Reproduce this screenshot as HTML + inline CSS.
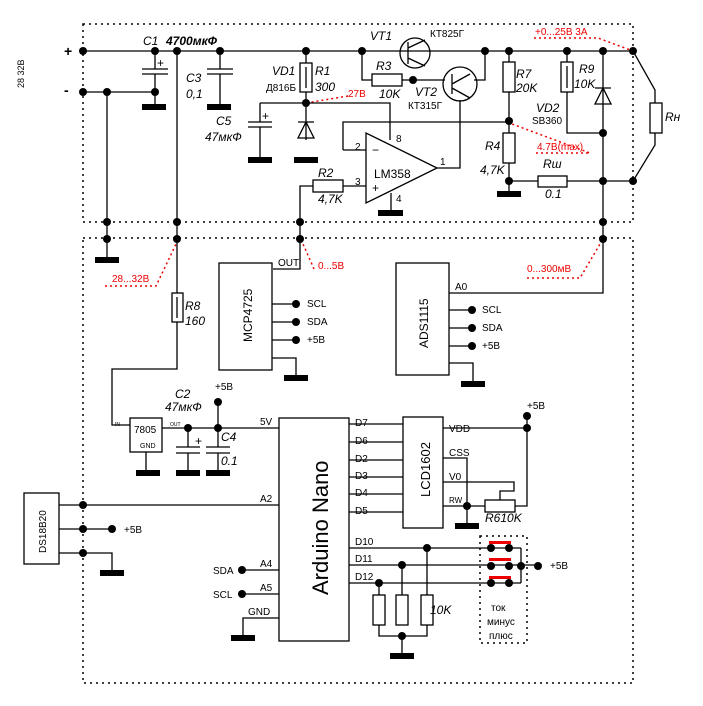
<!DOCTYPE html>
<html><head><meta charset="utf-8"><style>body{margin:0;background:#fff}svg{display:block}</style></head><body>
<svg width="703" height="706" viewBox="0 0 703 706" xmlns="http://www.w3.org/2000/svg" font-family="Liberation Sans, sans-serif">
<g fill="none" stroke="#000" stroke-width="1.5" stroke-dasharray="2,4">
<rect x="83" y="24" width="550" height="198"/>
<rect x="83" y="238" width="550" height="445"/>
<rect x="480" y="536" width="47" height="107"/>
</g>
<g fill="none" stroke="#e00" stroke-width="1.5" stroke-dasharray="2,3">
<path d="M534 38H598L633 51"/><path d="M348 96L306 103"/><path d="M536 153H590L512 124"/>
<path d="M105 286H156L177 242"/><path d="M314 269L303 244"/><path d="M527 278H580L600 244"/>
</g>
<g fill="none" stroke="#000" stroke-width="1.3">
<path d="M83 51H633M83 92H155M155 51V69M155 74V106M107 92V260M177 51V293M177 322V369H112V425H130"/>
<path d="M142 69H168M142 74H168M207 69H233M207 74H233M220 51V69M220 74V106"/>
<path d="M306 51V63M306 92V140M260 103H390V140M260 103V122M260 127V160M248 122H272M248 127H272"/>
<path d="M298 122H314M306 122L298 138H314Z"/>
<path d="M343 150H366M343 150V122H509M366 186H343M313 186H300V269H273"/>
<path d="M366 133V203L437 168Z M437 168H460V100 M391 193V212"/>
<path d="M362 51V80H372M402 80H445M485 51V80H474"/>
<path d="M509 51V62M509 92V133M509 163V191M509 181H538M567 181H633M567 51V62M567 92V133H603M603 51V293H449"/>
<path d="M595 88H611M603 88L595 104H611Z"/>
<path d="M633 51L655 90V103M655 133V145L633 181"/>
<circle cx="415" cy="53" r="15"/><circle cx="460" cy="84" r="17"/>
<path d="M408 42V64M408 48L425 40M408 58L425 66M452 74V94M452 84L470 74M452 88L470 98"/>
<path d="M272 304H296M272 322H296M272 340H296M272 358H296V378"/>
<path d="M449 310H472M449 328H472M449 346H472M449 363H473V385"/>
<path d="M162 428H279M146 452V472M188 428V447M188 453V472M218 402V447M218 453V472M176 447H200M176 453H200M206 447H230M206 453H230"/>
<path d="M279 618H243V637M349 424H403M349 442H403M349 460H403M349 477H403M349 494H403M349 512H403"/>
<path d="M443 428H527V416M443 458H467V525M443 482H514V491H500V500M443 506H485M515 506H527V428"/>
<path d="M349 548H509M349 565H509M349 583H509M521 548V583M509 548H521M509 565H538M509 583H521"/>
<path d="M379 583V595M402 565V595M427 548V595M379 625V636H427V625M402 636V655"/>
<path d="M59 505H279M59 529H112M59 553H112V572M242 570H279M242 594H279"/>
</g>
<g fill="#fff" stroke="#000" stroke-width="1.3">
<rect x="300" y="63" width="12" height="29"/><rect x="372" y="74" width="30" height="12"/><rect x="313" y="180" width="30" height="12"/>
<rect x="503" y="62" width="12" height="30"/><rect x="503" y="133" width="12" height="30"/><rect x="561" y="62" width="12" height="30"/>
<rect x="538" y="176" width="29" height="11"/><rect x="650" y="103" width="12" height="30"/><rect x="172" y="293" width="11" height="29"/>
<rect x="219" y="263" width="53" height="107"/><rect x="396" y="263" width="53" height="112"/>
<rect x="130" y="418" width="32" height="34"/><rect x="279" y="418" width="70" height="223"/><rect x="403" y="417" width="40" height="111"/>
<rect x="485" y="500" width="30" height="12"/><rect x="24" y="493" width="35" height="71"/>
<rect x="373" y="595" width="12" height="30"/><rect x="396" y="595" width="12" height="30"/><rect x="421" y="595" width="12" height="30"/>
</g>
<path d="M306 67V88M567 66V88M177 297V318" stroke="#000" stroke-width="1.3"/>
<g fill="#000">
<rect x="142" y="104" width="24" height="6"/><rect x="207" y="104" width="24" height="6"/><rect x="248" y="157" width="24" height="6"/><rect x="294" y="157" width="24" height="6"/>
<rect x="378" y="210" width="25" height="6"/><rect x="497" y="191" width="24" height="6"/><rect x="95" y="257" width="24" height="6"/>
<rect x="284" y="375" width="24" height="6"/><rect x="461" y="381" width="24" height="6"/><rect x="136" y="470" width="24" height="6"/>
<rect x="176" y="470" width="24" height="6"/><rect x="206" y="470" width="24" height="6"/><rect x="231" y="635" width="24" height="6"/>
<rect x="455" y="523" width="24" height="6"/><rect x="390" y="653" width="24" height="6"/><rect x="100" y="570" width="24" height="6"/>
<circle cx="83" cy="51" r="4"/><circle cx="83" cy="92" r="4"/><circle cx="155" cy="51" r="4"/><circle cx="155" cy="92" r="4"/><circle cx="107" cy="92" r="4"/>
<circle cx="177" cy="51" r="4"/><circle cx="220" cy="51" r="4"/><circle cx="306" cy="51" r="4"/><circle cx="306" cy="103" r="4"/><circle cx="362" cy="51" r="4"/>
<circle cx="413" cy="80" r="4"/><circle cx="485" cy="51" r="4"/><circle cx="509" cy="51" r="4"/><circle cx="509" cy="121" r="4"/><circle cx="509" cy="181" r="4"/>
<circle cx="567" cy="51" r="4"/><circle cx="603" cy="51" r="4"/><circle cx="603" cy="133" r="4"/><circle cx="603" cy="181" r="4"/><circle cx="633" cy="51" r="4"/><circle cx="633" cy="181" r="4"/>
<circle cx="107" cy="222" r="4"/><circle cx="177" cy="222" r="4"/><circle cx="300" cy="222" r="4"/><circle cx="603" cy="222" r="4"/>
<circle cx="107" cy="239" r="4"/><circle cx="177" cy="239" r="4"/><circle cx="300" cy="239" r="4"/><circle cx="603" cy="239" r="4"/>
<circle cx="296" cy="304" r="4"/><circle cx="296" cy="322" r="4"/><circle cx="296" cy="340" r="4"/><circle cx="472" cy="310" r="4"/><circle cx="472" cy="328" r="4"/><circle cx="472" cy="346" r="4"/>
<circle cx="188" cy="428" r="4"/><circle cx="218" cy="428" r="4"/><circle cx="218" cy="402" r="4"/><circle cx="527" cy="416" r="4"/><circle cx="527" cy="428" r="4"/><circle cx="467" cy="506" r="4"/>
<circle cx="427" cy="548" r="4"/><circle cx="402" cy="565" r="4"/><circle cx="379" cy="583" r="4"/><circle cx="402" cy="636" r="4"/>
<circle cx="491" cy="548" r="4"/><circle cx="509" cy="548" r="4"/><circle cx="491" cy="566" r="4"/><circle cx="509" cy="566" r="4"/><circle cx="491" cy="583" r="4"/><circle cx="509" cy="583" r="4"/>
<circle cx="521" cy="566" r="4"/><circle cx="538" cy="566" r="4"/><circle cx="83" cy="505" r="4"/><circle cx="83" cy="529" r="4"/><circle cx="83" cy="553" r="4"/><circle cx="112" cy="529" r="4"/>
<circle cx="242" cy="570" r="4"/><circle cx="242" cy="594" r="4"/>
</g>
<g fill="#e00"><rect x="489" y="541" width="22" height="3"/><rect x="489" y="558" width="22" height="3"/><rect x="489" y="576" width="22" height="3"/></g>
<g font-size="12" fill="#000">
<text x="143" y="45" font-style="italic">C1</text><text x="166" y="45" font-style="italic" font-weight="bold">4700мкФ</text>
<text x="186" y="82" font-style="italic">C3</text><text x="186" y="98" font-style="italic">0,1</text>
<text x="272" y="75" font-style="italic">VD1</text><text x="266" y="91" font-size="10">Д816Б</text>
<text x="315" y="75" font-style="italic">R1</text><text x="315" y="91" font-style="italic">300</text>
<text x="216" y="125" font-style="italic">C5</text><text x="205" y="141" font-style="italic">47мкФ</text>
<text x="370" y="40" font-style="italic">VT1</text><text x="430" y="37" font-size="10">КТ825Г</text>
<text x="376" y="70" font-style="italic">R3</text><text x="379" y="98" font-style="italic">10K</text>
<text x="415" y="96" font-style="italic">VT2</text><text x="408" y="109" font-size="10">КТ315Г</text>
<text x="516" y="78" font-style="italic">R7</text><text x="516" y="92" font-style="italic">20K</text>
<text x="579" y="73" font-style="italic">R9</text><text x="574" y="88" font-style="italic">10K</text>
<text x="536" y="112" font-style="italic">VD2</text><text x="532" y="124" font-size="10">SB360</text>
<text x="665" y="121" font-style="italic">Rн</text>
<text x="485" y="150" font-style="italic">R4</text><text x="480" y="174" font-style="italic">4,7K</text>
<text x="543" y="168" font-style="italic">Rш</text><text x="545" y="198" font-style="italic">0.1</text>
<text x="318" y="177" font-style="italic">R2</text><text x="318" y="203" font-style="italic">4,7K</text>
<text x="374" y="178">LM358</text>
<text x="355" y="150" font-size="10">2</text><text x="355" y="185" font-size="10">3</text><text x="396" y="142" font-size="10">8</text><text x="396" y="202" font-size="10">4</text><text x="440" y="165" font-size="10">1</text>
<text x="372" y="154">−</text><text x="372" y="192">+</text><text x="157" y="67">+</text><text x="262" y="120">+</text><text x="195" y="445">+</text>
<text x="64" y="56" font-weight="bold" font-size="14">+</text><text x="64" y="95" font-weight="bold" font-size="14">-</text>
<text x="185" y="310" font-style="italic">R8</text><text x="185" y="325" font-style="italic">160</text>
<text x="175" y="398" font-style="italic">C2</text><text x="165" y="411" font-style="italic">47мкФ</text>
<text x="221" y="441" font-style="italic">C4</text><text x="221" y="465" font-style="italic">0.1</text>
<text x="485" y="522" font-style="italic">R610K</text><text x="430" y="614" font-style="italic">10K</text>
</g>
<g font-size="10" fill="#000">
<text x="278" y="266">OUT</text><text x="307" y="307">SCL</text><text x="307" y="325">SDA</text><text x="307" y="343">+5В</text>
<text x="455" y="290">A0</text><text x="482" y="313">SCL</text><text x="482" y="331">SDA</text><text x="482" y="349">+5В</text>
<text x="215" y="390">+5В</text><text x="134" y="433">7805</text><text x="140" y="448" font-size="7">GND</text><text x="115" y="426" font-size="5">IN</text><text x="170" y="426" font-size="5">OUT</text>
<text x="260" y="425">5V</text><text x="260" y="502">A2</text><text x="260" y="567">A4</text><text x="260" y="591">A5</text><text x="248" y="615">GND</text>
<text x="213" y="574">SDA</text><text x="213" y="598">SCL</text>
<text x="355" y="426">D7</text><text x="355" y="444">D6</text><text x="355" y="462">D2</text><text x="355" y="479">D3</text><text x="355" y="496">D4</text><text x="355" y="514">D5</text>
<text x="355" y="545">D10</text><text x="355" y="562">D11</text><text x="355" y="580">D12</text>
<text x="449" y="432">VDD</text><text x="449" y="456">CSS</text><text x="449" y="480">V0</text><text x="449" y="503" font-size="8">RW</text>
<text x="527" y="409">+5В</text><text x="124" y="533">+5В</text><text x="550" y="569">+5В</text>
<text x="491" y="611">ток</text><text x="487" y="625">минус</text><text x="489" y="639">плюс</text>
</g>
<g fill="#e00" font-size="10"><text x="535" y="35">+0...25В  3А</text><text x="348" y="97">27В</text><text x="537" y="150">4.7В(max)</text>
<text x="112" y="282">28...32В</text><text x="318" y="269">0...5В</text><text x="527" y="272">0...300мВ</text></g>
<g fill="#000">
<text transform="translate(24,88) rotate(-90)" font-size="9">28  32В</text>
<text transform="translate(252,342) rotate(-90)" font-size="12">MCP4725</text>
<text transform="translate(428,348) rotate(-90)" font-size="12">ADS1115</text>
<text transform="translate(430,497) rotate(-90)" font-size="13">LCD1602</text>
<text transform="translate(46,553) rotate(-90)" font-size="10">DS18B20</text>
<text transform="translate(328,595) rotate(-90)" font-size="22">Arduino Nano</text>
</g>
</svg>
</body></html>
